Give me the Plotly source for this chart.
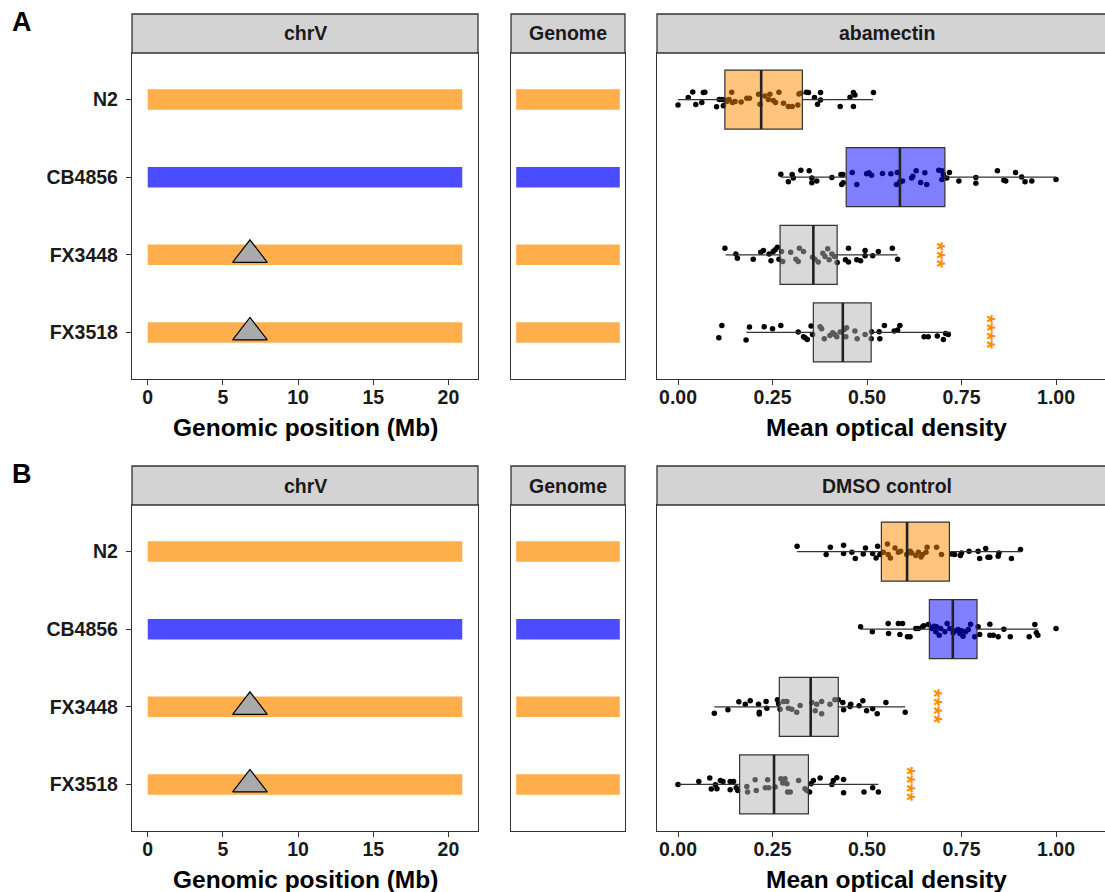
import plotly.graph_objects as go

# ---------------- data ----------------
strains = ["N2", "CB4856", "FX3448", "FX3518"]
background = ["N2", "CB4856", "N2", "N2"]
chrV_length_mb = 20.92
genome_fraction = [1.0, 1.0, 1.0, 1.0]
deletion_strains = ["FX3448", "FX3518"]
deletion_pos_mb = [6.8, 6.8]
chr_ticks = [0, 5, 10, 15, 20]
od_ticks = [0.0, 0.25, 0.5, 0.75, 1.0]
od_ticktext = ["0.00", "0.25", "0.50", "0.75", "1.00"]

conditions = ["abamectin", "DMSO control"]
panel_letters = ["A", "B"]

# box statistics (per strain)
aba_q1 = [0.124, 0.445, 0.270, 0.358]
aba_med = [0.220, 0.587, 0.358, 0.436]
aba_q3 = [0.329, 0.706, 0.421, 0.511]
aba_lo = [0.000, 0.272, 0.126, 0.181]
aba_hi = [0.516, 1.000, 0.581, 0.722]

dmso_q1 = [0.538, 0.665, 0.268, 0.163]
dmso_med = [0.606, 0.727, 0.351, 0.254]
dmso_q3 = [0.718, 0.791, 0.424, 0.345]
dmso_lo = [0.315, 0.483, 0.096, 0.000]
dmso_hi = [0.907, 0.952, 0.601, 0.530]

# significance labels (x position in optical density units)
aba_sig = ["", "", "***", "****"]
aba_sig_x = [None, None, 0.695, 0.830]
dmso_sig = ["", "", "****", "****"]
dmso_sig_x = [None, None, 0.687, 0.618]

# individual wells: value and vertical jitter (row units)
aba_N2_x = [0.000, 0.027, 0.039, 0.047, 0.063, 0.067, 0.071, 0.102, 0.109, 0.116, 0.120, 0.124, 0.129, 0.135, 0.142, 0.144, 0.151, 0.167, 0.182, 0.189, 0.213, 0.217, 0.230, 0.239, 0.243, 0.252, 0.258, 0.267, 0.279, 0.292, 0.302, 0.317, 0.320, 0.325, 0.340, 0.345, 0.361, 0.369, 0.377, 0.377, 0.429, 0.455, 0.464, 0.468, 0.464, 0.517]
aba_N2_j = [0.07, -0.026, -0.099, 0.064, 0.039, -0.09, -0.094, 0.094, 0.0, 0.0, 0.08, 0.004, 0.026, 0.0, -0.094, 0.039, 0.026, 0.03, -0.017, -0.017, -0.069, 0.06, -0.047, 0.0, -0.069, 0.013, 0.039, -0.094, 0.047, 0.09, 0.09, 0.069, -0.073, -0.082, -0.094, -0.09, -0.026, 0.06, -0.09, 0.004, 0.09, -0.03, -0.09, -0.06, 0.09, -0.09]

aba_CB_x = [0.272, 0.292, 0.302, 0.305, 0.325, 0.347, 0.354, 0.354, 0.367, 0.407, 0.431, 0.436, 0.433, 0.437, 0.461, 0.473, 0.499, 0.505, 0.512, 0.541, 0.563, 0.580, 0.578, 0.587, 0.594, 0.618, 0.621, 0.630, 0.642, 0.653, 0.658, 0.690, 0.698, 0.698, 0.702, 0.718, 0.711, 0.743, 0.788, 0.788, 0.845, 0.862, 0.867, 0.893, 0.909, 0.918, 0.936, 1.000]
aba_CB_j = [-0.039, 0.06, -0.034, 0.009, -0.09, -0.082, 0.009, 0.073, 0.05, 0.004, -0.034, -0.034, 0.094, 0.073, -0.06, 0.094, -0.043, -0.056, -0.026, -0.047, -0.043, -0.06, 0.094, 0.06, 0.05, 0.009, -0.013, -0.082, 0.069, -0.056, 0.094, -0.09, -0.082, 0.03, -0.034, -0.06, 0.009, 0.05, 0.004, 0.077, -0.082, 0.039, 0.05, -0.06, -0.004, 0.06, 0.05, 0.03]

aba_FX3448_x = [0.124, 0.153, 0.157, 0.199, 0.219, 0.226, 0.241, 0.246, 0.252, 0.257, 0.263, 0.267, 0.274, 0.277, 0.298, 0.312, 0.318, 0.321, 0.332, 0.356, 0.362, 0.371, 0.383, 0.389, 0.396, 0.400, 0.407, 0.414, 0.421, 0.443, 0.451, 0.451, 0.473, 0.483, 0.495, 0.495, 0.515, 0.530, 0.567, 0.581]
aba_FX3448_j = [-0.086, -0.009, 0.043, 0.056, -0.034, -0.056, -0.009, 0.077, -0.043, -0.064, -0.099, 0.056, -0.043, 0.086, -0.034, 0.056, 0.086, -0.086, -0.043, 0.03, 0.056, 0.094, -0.021, 0.021, -0.077, 0.064, -0.009, 0.021, 0.099, 0.064, -0.086, 0.094, 0.064, 0.077, -0.056, 0.013, 0.013, -0.043, -0.086, 0.056]

aba_FX3518_x = [0.116, 0.108, 0.180, 0.189, 0.228, 0.250, 0.272, 0.318, 0.332, 0.336, 0.342, 0.352, 0.356, 0.376, 0.380, 0.387, 0.402, 0.409, 0.415, 0.420, 0.429, 0.440, 0.444, 0.446, 0.468, 0.474, 0.495, 0.511, 0.512, 0.532, 0.534, 0.546, 0.572, 0.581, 0.587, 0.651, 0.662, 0.686, 0.702, 0.708, 0.715]
aba_FX3518_j = [-0.09, 0.069, 0.099, -0.069, -0.073, -0.047, -0.09, -0.004, 0.056, 0.069, 0.09, -0.082, 0.026, -0.073, -0.047, 0.082, 0.039, 0.004, 0.026, 0.056, -0.004, -0.039, 0.056, -0.06, -0.017, 0.082, 0.026, 0.082, -0.009, -0.009, 0.082, -0.09, -0.017, -0.03, -0.09, 0.056, 0.056, 0.047, 0.09, 0.013, 0.026]

dmso_N2_x = [0.315, 0.392, 0.403, 0.438, 0.438, 0.460, 0.469, 0.490, 0.496, 0.515, 0.524, 0.528, 0.534, 0.543, 0.554, 0.556, 0.562, 0.574, 0.583, 0.589, 0.605, 0.614, 0.618, 0.629, 0.636, 0.643, 0.647, 0.656, 0.659, 0.684, 0.697, 0.724, 0.732, 0.747, 0.750, 0.770, 0.794, 0.798, 0.814, 0.820, 0.825, 0.847, 0.849, 0.882, 0.906]
dmso_N2_j = [-0.069, 0.039, -0.056, -0.082, 0.026, 0.009, 0.09, 0.03, -0.047, 0.026, 0.082, -0.069, 0.039, 0.009, -0.099, 0.039, 0.082, -0.047, 0.009, -0.004, 0.039, -0.004, 0.017, 0.052, 0.009, 0.069, 0.039, 0.009, -0.056, -0.056, 0.039, 0.03, 0.039, 0.052, 0.017, -0.004, -0.004, 0.09, -0.039, 0.073, 0.073, 0.06, 0.017, 0.09, -0.026]

dmso_CB_x = [0.483, 0.514, 0.556, 0.557, 0.583, 0.587, 0.594, 0.607, 0.614, 0.629, 0.636, 0.647, 0.650, 0.662, 0.671, 0.677, 0.682, 0.684, 0.691, 0.695, 0.706, 0.712, 0.719, 0.728, 0.735, 0.741, 0.746, 0.750, 0.754, 0.761, 0.768, 0.774, 0.785, 0.794, 0.798, 0.825, 0.825, 0.834, 0.847, 0.862, 0.879, 0.929, 0.944, 0.948, 0.952, 1.000]
dmso_CB_j = [-0.03, 0.034, -0.073, 0.056, -0.073, 0.069, -0.073, 0.099, 0.099, -0.009, -0.009, -0.03, -0.043, -0.06, -0.009, -0.039, 0.034, -0.03, 0.077, -0.009, 0.034, -0.073, -0.009, 0.047, 0.021, 0.004, 0.056, 0.021, 0.09, 0.034, 0.004, -0.064, 0.099, -0.03, 0.069, -0.064, 0.077, 0.077, 0.099, 0.0, 0.099, 0.099, -0.06, 0.047, 0.077, -0.009]

dmso_FX3448_x = [0.096, 0.132, 0.161, 0.178, 0.191, 0.213, 0.215, 0.215, 0.233, 0.235, 0.263, 0.266, 0.270, 0.279, 0.288, 0.292, 0.301, 0.314, 0.323, 0.354, 0.363, 0.367, 0.380, 0.380, 0.402, 0.415, 0.424, 0.436, 0.438, 0.455, 0.457, 0.479, 0.489, 0.499, 0.515, 0.527, 0.550, 0.601]
dmso_FX3448_j = [0.082, 0.039, -0.064, -0.034, -0.077, -0.034, 0.069, 0.094, -0.069, 0.017, -0.09, -0.039, 0.03, -0.069, -0.069, 0.017, 0.03, 0.069, -0.017, -0.056, 0.052, -0.034, -0.069, 0.09, -0.034, -0.09, -0.09, -0.056, 0.039, -0.004, -0.034, -0.013, -0.077, 0.052, 0.026, 0.09, -0.056, 0.069]

dmso_FX3518_x = [0.000, 0.055, 0.084, 0.088, 0.099, 0.103, 0.112, 0.119, 0.138, 0.138, 0.147, 0.154, 0.158, 0.182, 0.184, 0.204, 0.207, 0.231, 0.237, 0.240, 0.257, 0.272, 0.277, 0.283, 0.288, 0.290, 0.297, 0.319, 0.336, 0.341, 0.348, 0.352, 0.358, 0.376, 0.407, 0.411, 0.420, 0.438, 0.438, 0.492, 0.515, 0.530]
dmso_FX3518_j = [0.0, -0.039, -0.082, 0.06, 0.004, 0.056, -0.052, -0.039, 0.069, -0.039, -0.039, 0.043, 0.077, 0.026, 0.099, -0.06, 0.077, 0.043, -0.06, 0.043, 0.034, -0.073, -0.017, -0.073, -0.009, 0.099, 0.099, -0.052, 0.056, 0.077, 0.099, -0.009, -0.052, -0.082, 0.0, -0.052, -0.086, 0.107, -0.064, 0.099, 0.043, 0.099]

# ---------------- style ----------------
W, H = 1105, 892
FONT = "Liberation Sans, Arial, Helvetica, sans-serif"
LINE = "#333333"
TXT = "#1a1a1a"
bar_color = {"N2": "rgba(255,140,0,0.7)", "CB4856": "rgba(0,0,255,0.7)"}
box_fill = {"N2": "rgba(255,140,0,0.5)", "CB4856": "rgba(0,0,255,0.5)",
            "FX3448": "rgba(179,179,179,0.5)", "FX3518": "rgba(179,179,179,0.5)"}
BAR_W = 0.264
BOX_W = 0.76

panel_px = {"chr": (132, 478), "gen": (511, 625), "box": (657, 1105)}
row_top_px = [53, 505]
PLOT_H = 326
STRIP_H = 39
chr_range = [-0.05 * chrV_length_mb, 1.05 * chrV_length_mb]
gen_range = [-0.05, 1.05]
od_range = [-0.0556, 1.1296]
y_range = [len(strains) + 0.6, 0.4]


def fx(p):
    return p / W


def fy(p):
    return 1 - p / H


rows = [i + 1 for i in range(len(strains))]
row_of = {s: i + 1 for i, s in enumerate(strains)}

stats = [
    (aba_q1, aba_med, aba_q3, aba_lo, aba_hi),
    (dmso_q1, dmso_med, dmso_q3, dmso_lo, dmso_hi),
]
points = [
    [(aba_N2_x, aba_N2_j), (aba_CB_x, aba_CB_j), (aba_FX3448_x, aba_FX3448_j), (aba_FX3518_x, aba_FX3518_j)],
    [(dmso_N2_x, dmso_N2_j), (dmso_CB_x, dmso_CB_j), (dmso_FX3448_x, dmso_FX3448_j), (dmso_FX3518_x, dmso_FX3518_j)],
]
sigs = [(aba_sig, aba_sig_x), (dmso_sig, dmso_sig_x)]

fig = go.Figure()
layout = {}
annotations = []
shapes = []

tickfont = dict(family=FONT, size=19.5, color=TXT, weight="bold")

for r in range(2):
    k = 4 * r
    top = row_top_px[r]
    ydom = [fy(top + PLOT_H), fy(top)]
    ids = [str(k + 1), str(k + 2), str(k + 3), str(k + 4)]
    xn = ["xaxis" + i for i in ids]
    yn = ["yaxis" + i for i in ids]

    # chrV panel
    layout[xn[0]] = dict(domain=[fx(panel_px["chr"][0]), fx(panel_px["chr"][1])], range=chr_range,
                         anchor="y" + ids[0], tickvals=chr_ticks, ticks="outside", ticklen=5,
                         tickwidth=1.2, tickcolor=LINE, showline=True, mirror=True, linecolor=LINE,
                         linewidth=1.3, showgrid=False, zeroline=False, tickfont=tickfont,
                         ticklabelstandoff=-5, fixedrange=True)
    layout[yn[0]] = dict(domain=ydom, range=y_range, anchor="x" + ids[0], tickvals=rows, ticktext=strains,
                         ticks="outside", ticklen=5, tickwidth=1.2, tickcolor=LINE, showline=True,
                         mirror=True, linecolor=LINE, linewidth=1.3, showgrid=False, zeroline=False,
                         tickfont=tickfont, ticklabelstandoff=4, fixedrange=True)
    # Genome panel
    layout[xn[1]] = dict(domain=[fx(panel_px["gen"][0]), fx(panel_px["gen"][1])], range=gen_range,
                         anchor="y" + ids[1], showticklabels=False, ticks="", showline=True, mirror=True,
                         linecolor=LINE, linewidth=1.3, showgrid=False, zeroline=False, fixedrange=True)
    layout[yn[1]] = dict(domain=ydom, range=y_range, anchor="x" + ids[1], showticklabels=False, ticks="",
                         showline=True, mirror=True, linecolor=LINE, linewidth=1.3, showgrid=False,
                         zeroline=False, fixedrange=True)
    # box panel
    layout[xn[2]] = dict(domain=[fx(panel_px["box"][0]), fx(panel_px["box"][1])], range=od_range,
                         anchor="y" + ids[2], tickvals=od_ticks, ticktext=od_ticktext, ticks="outside",
                         ticklen=5, tickwidth=1.2, tickcolor=LINE, showline=True, mirror=True,
                         linecolor=LINE, linewidth=1.3, showgrid=False, zeroline=False, tickfont=tickfont,
                         ticklabelstandoff=-5, fixedrange=True)
    layout[yn[2]] = dict(domain=ydom, range=y_range, anchor="x" + ids[2], showticklabels=False, ticks="",
                         showline=True, mirror=False, linecolor=LINE, linewidth=1.3, showgrid=False,
                         zeroline=False, fixedrange=True)
    # overlay for boxes (drawn above the points)
    layout[xn[3]] = dict(overlaying="x" + ids[2], range=od_range, visible=False, anchor="y" + ids[3],
                         fixedrange=True)
    layout[yn[3]] = dict(overlaying="y" + ids[2], range=y_range, visible=False, anchor="x" + ids[3],
                         fixedrange=True)

    # chromosome bars
    fig.add_trace(go.Bar(y=rows, x=[chrV_length_mb] * len(strains), base=[0] * len(strains), orientation="h",
                         width=BAR_W, marker=dict(color=[bar_color[b] for b in background], line=dict(width=0)),
                         xaxis="x" + ids[0], yaxis="y" + ids[0], hoverinfo="skip"))
    fig.add_trace(go.Scatter(x=deletion_pos_mb, y=[row_of[s] for s in deletion_strains], mode="markers",
                             marker=dict(symbol="triangle-up", size=30, color="#AAAAAA",
                                         line=dict(color="black", width=1.2)),
                             xaxis="x" + ids[0], yaxis="y" + ids[0], hoverinfo="skip"))
    # genome bars
    fig.add_trace(go.Bar(y=rows, x=genome_fraction, base=[0] * len(strains), orientation="h", width=BAR_W,
                         marker=dict(color=[bar_color[b] for b in background], line=dict(width=0)),
                         xaxis="x" + ids[1], yaxis="y" + ids[1], hoverinfo="skip"))

    # jittered points
    px_all, py_all = [], []
    for i, (xs, js) in enumerate(points[r]):
        n = min(len(xs), len(js))
        px_all += xs[:n]
        py_all += [rows[i] + j for j in js[:n]]
    fig.add_trace(go.Scatter(x=px_all, y=py_all, mode="markers",
                             marker=dict(size=5.5, color="black", line=dict(width=0)),
                             xaxis="x" + ids[2], yaxis="y" + ids[2], hoverinfo="skip"))

    # boxes
    q1, med, q3, lo, hi = stats[r]
    for i, s in enumerate(strains):
        fig.add_trace(go.Box(y=[rows[i]], q1=[q1[i]], median=[med[i]], q3=[q3[i]], lowerfence=[lo[i]],
                             upperfence=[hi[i]], orientation="h", width=BOX_W, whiskerwidth=0,
                             fillcolor=box_fill[s], line=dict(color=LINE, width=1.2), boxpoints=False,
                             xaxis="x" + ids[3], yaxis="y" + ids[3], hoverinfo="skip"))
    mx, my = [], []
    for i in range(len(strains)):
        mx += [med[i], med[i], None]
        my += [rows[i] - BOX_W / 2, rows[i] + BOX_W / 2, None]
    fig.add_trace(go.Scatter(x=mx, y=my, mode="lines", line=dict(color="#222222", width=2.6),
                             xaxis="x" + ids[3], yaxis="y" + ids[3], hoverinfo="skip"))

    # significance stars
    labs, lx = sigs[r]
    for i, (t, xv) in enumerate(zip(labs, lx)):
        if t:
            annotations.append(dict(x=xv, y=rows[i], xref="x" + ids[2], yref="y" + ids[2], text=t,
                                    textangle=90, showarrow=False, xshift=-4,
                                    font=dict(family=FONT, size=22, color="#FF8C00", weight="bold")))

    # strips
    strip_titles = ["chrV", "Genome", conditions[r]]
    for key, title in zip(["chr", "gen", "box"], strip_titles):
        x0, x1 = panel_px[key]
        if key == "box":
            x1 = W + 10
        shapes.append(dict(type="rect", xref="paper", yref="paper", x0=fx(x0), x1=fx(x1),
                           y0=fy(top), y1=fy(top - STRIP_H), fillcolor="#D3D3D3",
                           line=dict(color=LINE, width=1.3), layer="above"))
        cx = (panel_px[key][0] + (panel_px[key][1] if key != "box" else 1116)) / 2
        annotations.append(dict(x=fx(cx), y=fy(top - STRIP_H / 2), xref="paper", yref="paper",
                                text=title, showarrow=False, xanchor="center", yanchor="middle",
                                font=dict(family=FONT, size=19.5, color=TXT, weight="bold")))

    # axis titles
    annotations.append(dict(x=fx((panel_px["chr"][0] + panel_px["chr"][1]) / 2), y=fy(top + PLOT_H + 48),
                            xref="paper", yref="paper", text="Genomic position (Mb)", showarrow=False,
                            xanchor="center", yanchor="middle",
                            font=dict(family=FONT, size=24.5, color="black", weight="bold")))
    annotations.append(dict(x=fx((panel_px["box"][0] + 1116) / 2), y=fy(top + PLOT_H + 48),
                            xref="paper", yref="paper", text="Mean optical density", showarrow=False,
                            xanchor="center", yanchor="middle",
                            font=dict(family=FONT, size=24.5, color="black", weight="bold")))
    # panel letter
    annotations.append(dict(x=fx(22), y=fy(top - 31), xref="paper", yref="paper", text=panel_letters[r],
                            showarrow=False, xanchor="center", yanchor="middle",
                            font=dict(family=FONT, size=27, color="black", weight="bold")))

fig.update_layout(
    width=W, height=H, margin=dict(l=0, r=0, t=0, b=0),
    paper_bgcolor="white", plot_bgcolor="white", showlegend=False,
    font=dict(family=FONT), annotations=annotations, shapes=shapes, **layout,
)

fig.write_html("out.html", config={"displayModeBar": False},
               post_script="document.body.style.margin='0px';document.body.style.overflow='hidden';")
